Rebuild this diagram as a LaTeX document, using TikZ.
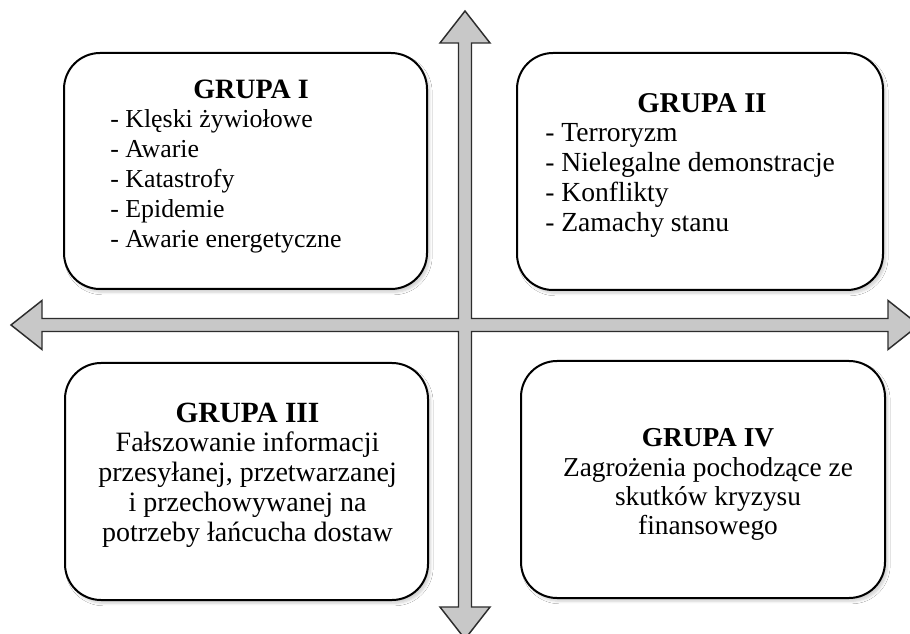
\documentclass[tikz,border=0pt]{standalone}
\usepackage{fontspec}
\setmainfont{Liberation Serif}
\usetikzlibrary{shadows.blur}
\definecolor{arrowgray}{RGB}{200,200,200}
\definecolor{arrowline}{RGB}{45,45,45}
\begin{document}
\begin{tikzpicture}[x=0.75pt,y=-0.75pt,
  grpbox/.style={draw=black, line width=1.5pt, fill=white, rounded corners=27pt,
    inner sep=0pt, blur shadow={shadow xshift=2pt, shadow yshift=-2.5pt, shadow opacity=18, shadow blur steps=6}},
  title/.style={font=\fontsize{#1}{23}\selectfont\bfseries, anchor=base, inner sep=0pt},
  itemL/.style={font=\fontsize{#1}{23}\selectfont, anchor=base west, inner sep=0pt},
  itemC/.style={font=\fontsize{#1}{23}\selectfont, anchor=base, inner sep=0pt},
  cross/.style={draw=arrowline, fill=arrowgray, line width=1.1pt, line join=miter}
]
\clip (0,0) rectangle (910,634);
\fill[white] (0,0) rectangle (910,634);

% cross arrows
\draw[cross] (465,11) -- (490,43) -- (471.5,43) -- (471.5,318.5) -- (888,318.5) -- (888,300.5)
  -- (919,325) -- (888,349.5) -- (888,331.5) -- (471.5,331.5) -- (471.5,607) -- (490,607)
  -- (465,639) -- (440,607) -- (458.5,607) -- (458.5,331.5) -- (42,331.5) -- (42,349.5)
  -- (11,325) -- (42,300.5) -- (42,318.5) -- (458.5,318.5) -- (458.5,43) -- (440,43) -- cycle;

% boxes
\node[grpbox, minimum width=272.25pt, minimum height=177pt] (b1) at (245.5,171) {};
\node[grpbox, minimum width=274.5pt, minimum height=177.75pt] (b2) at (700,171.5) {};
\node[grpbox, minimum width=272.25pt, minimum height=177.75pt] (b3) at (246.5,481.5) {};
\node[grpbox, minimum width=273pt, minimum height=177.75pt] (b4) at (703,479.5) {};

% group I
\node[title=21] (t1) at (251,99) {GRUPA I};
\node[itemL=19.4] (g1a) at (110,128) {- Klęski żywiołowe};
\node[itemL=19.4] (g1b) at (110,158) {- Awarie};
\node[itemL=19.4] (g1c) at (110,188) {- Katastrofy};
\node[itemL=19.4] (g1d) at (110,218) {- Epidemie};
\node[itemL=19.4] (g1e) at (110,248) {- Awarie energetyczne};

% group II
\node[title=21.5] (t2) at (702,113) {GRUPA II};
\node[itemL=20.7] (g2a) at (545,142) {- Terroryzm};
\node[itemL=20.7] (g2b) at (545,172) {- Nielegalne demonstracje};
\node[itemL=20.7] (g2c) at (545,202) {- Konflikty};
\node[itemL=20.7] (g2d) at (545,232) {- Zamachy stanu};

% group III
\node[title=22] (t3) at (247.5,422) {GRUPA III};
\node[itemC=21] (g3a) at (247.5,451) {Fałszowanie informacji};
\node[itemC=21] (g3b) at (247.5,481) {przesyłanej, przetwarzanej};
\node[itemC=21] (g3c) at (247.5,511) {i przechowywanej na};
\node[itemC=21] (g3d) at (247.5,541) {potrzeby łańcucha dostaw};

% group IV
\node[title=20.5] (t4) at (708,446) {GRUPA IV};
\node[itemC=20.5] (g4a) at (708,476) {Zagrożenia pochodzące ze};
\node[itemC=20.5] (g4b) at (708,505) {skutków kryzysu};
\node[itemC=20.5] (g4c) at (708,534) {finansowego};
\end{tikzpicture}
\end{document}
